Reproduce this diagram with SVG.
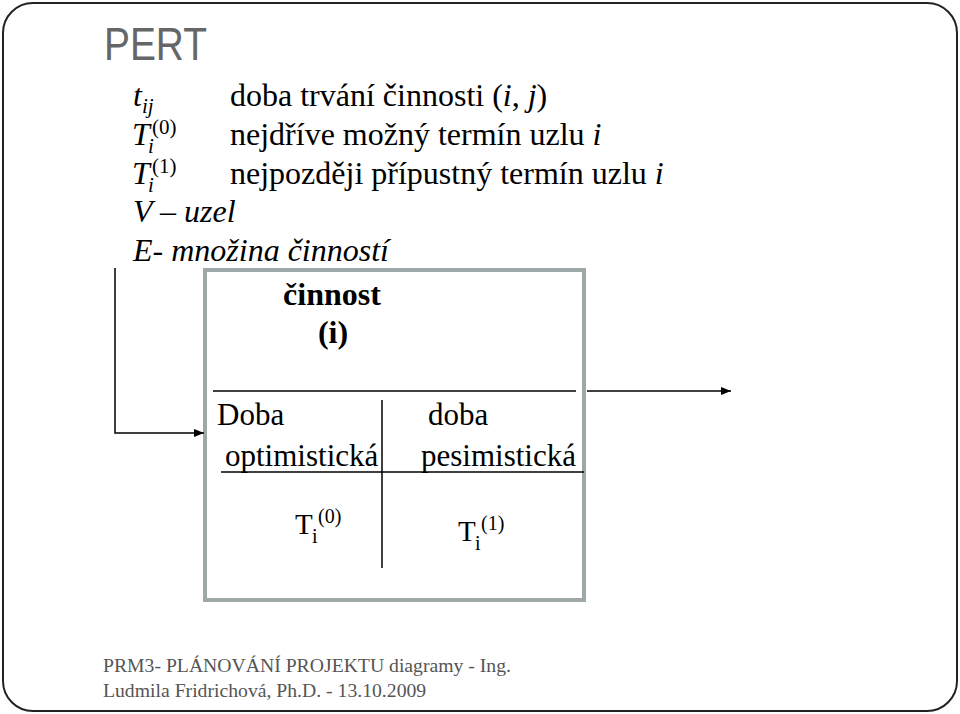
<svg xmlns="http://www.w3.org/2000/svg" width="960" height="714" viewBox="0 0 960 714">
<style>
.s{font-family:"Liberation Serif","Times New Roman",serif;fill:#000}
.d{font-size:32px}
.it{font-style:italic}
.sm{font-size:21px}
.bx{font-size:31px}
.b{font-weight:bold;font-size:32px}
.ft{font-family:"Liberation Serif",serif;font-size:19.7px;fill:#555}
.ln{stroke:#000;stroke-width:1.5;fill:none}
</style>
<defs>
<marker id="ah" markerWidth="10" markerHeight="8" refX="10" refY="4" orient="auto" markerUnits="userSpaceOnUse">
<path d="M0,0 L10,4 L0,8 Z" fill="#000"/>
</marker>
</defs>
<rect x="3" y="3" width="954" height="708" rx="30" ry="30" fill="#fff" stroke="#222" stroke-width="2"/>
<text x="104" y="60" font-family="Liberation Sans, Arial, sans-serif" font-size="46" fill="#666" textLength="103" lengthAdjust="spacingAndGlyphs">PERT</text>

<g id="definitions" class="s">
<text class="d" y="106"><tspan x="133" class="it">t</tspan><tspan class="sm it" dy="7">ij</tspan><tspan x="230" dy="-7">doba trvání činnosti (</tspan><tspan class="it">i</tspan>, <tspan class="it">j</tspan>)</text>
<text class="d" y="145"><tspan x="132" class="it">T</tspan><tspan x="148" dy="8" class="sm it">i</tspan><tspan x="152" dy="-19" class="sm">(0)</tspan><tspan x="230" dy="11">nejdříve možný termín uzlu </tspan><tspan class="it">i</tspan></text>
<text class="d" y="184"><tspan x="132" class="it">T</tspan><tspan x="148" dy="8" class="sm it">i</tspan><tspan x="152" dy="-19" class="sm">(1)</tspan><tspan x="230" dy="11">nejpozději přípustný termín uzlu </tspan><tspan class="it">i</tspan></text>
<text class="d it" x="133" y="222">V – uzel</text>
<text class="d it" x="133" y="261">E- množina činností</text>
</g>

<g id="node-i">
<rect x="205" y="270" width="379" height="330" fill="#fff" stroke="#9ea8a8" stroke-width="4"/>
<text class="s b" x="332" y="305" text-anchor="middle">činnost</text>
<text class="s b" x="333" y="343" text-anchor="middle">(i)</text>
<line class="ln" x1="213" y1="391" x2="576" y2="391"/>
<line class="ln" x1="382" y1="400" x2="382" y2="568"/>
<line class="ln" x1="221" y1="472" x2="584" y2="472"/>
<text class="s bx" x="217" y="425">Doba</text>
<text class="s bx" x="428" y="425">doba</text>
<text class="s bx" x="225" y="466">optimistická</text>
<text class="s bx" x="421" y="466">pesimistická</text>
<text class="s" y="534"><tspan x="295" font-size="29">T</tspan><tspan x="312" dy="9" font-size="20">i</tspan><tspan x="318" dy="-20" font-size="20">(0)</tspan></text>
<text class="s" y="541"><tspan x="458" font-size="29">T</tspan><tspan x="475" dy="9" font-size="20">i</tspan><tspan x="481" dy="-20" font-size="20">(1)</tspan></text>
</g>

<g id="connectors">
<polyline class="ln" points="115,268 115,433 204,433" marker-end="url(#ah)"/>
<line class="ln" x1="587" y1="391" x2="731" y2="391" marker-end="url(#ah)"/>
</g>

<g id="footer">
<text class="ft" x="103" y="672">PRM3- PLÁNOVÁNÍ PROJEKTU diagramy - Ing.</text>
<text class="ft" x="103" y="697">Ludmila Fridrichová, Ph.D. - 13.10.2009</text>
</g>
</svg>
